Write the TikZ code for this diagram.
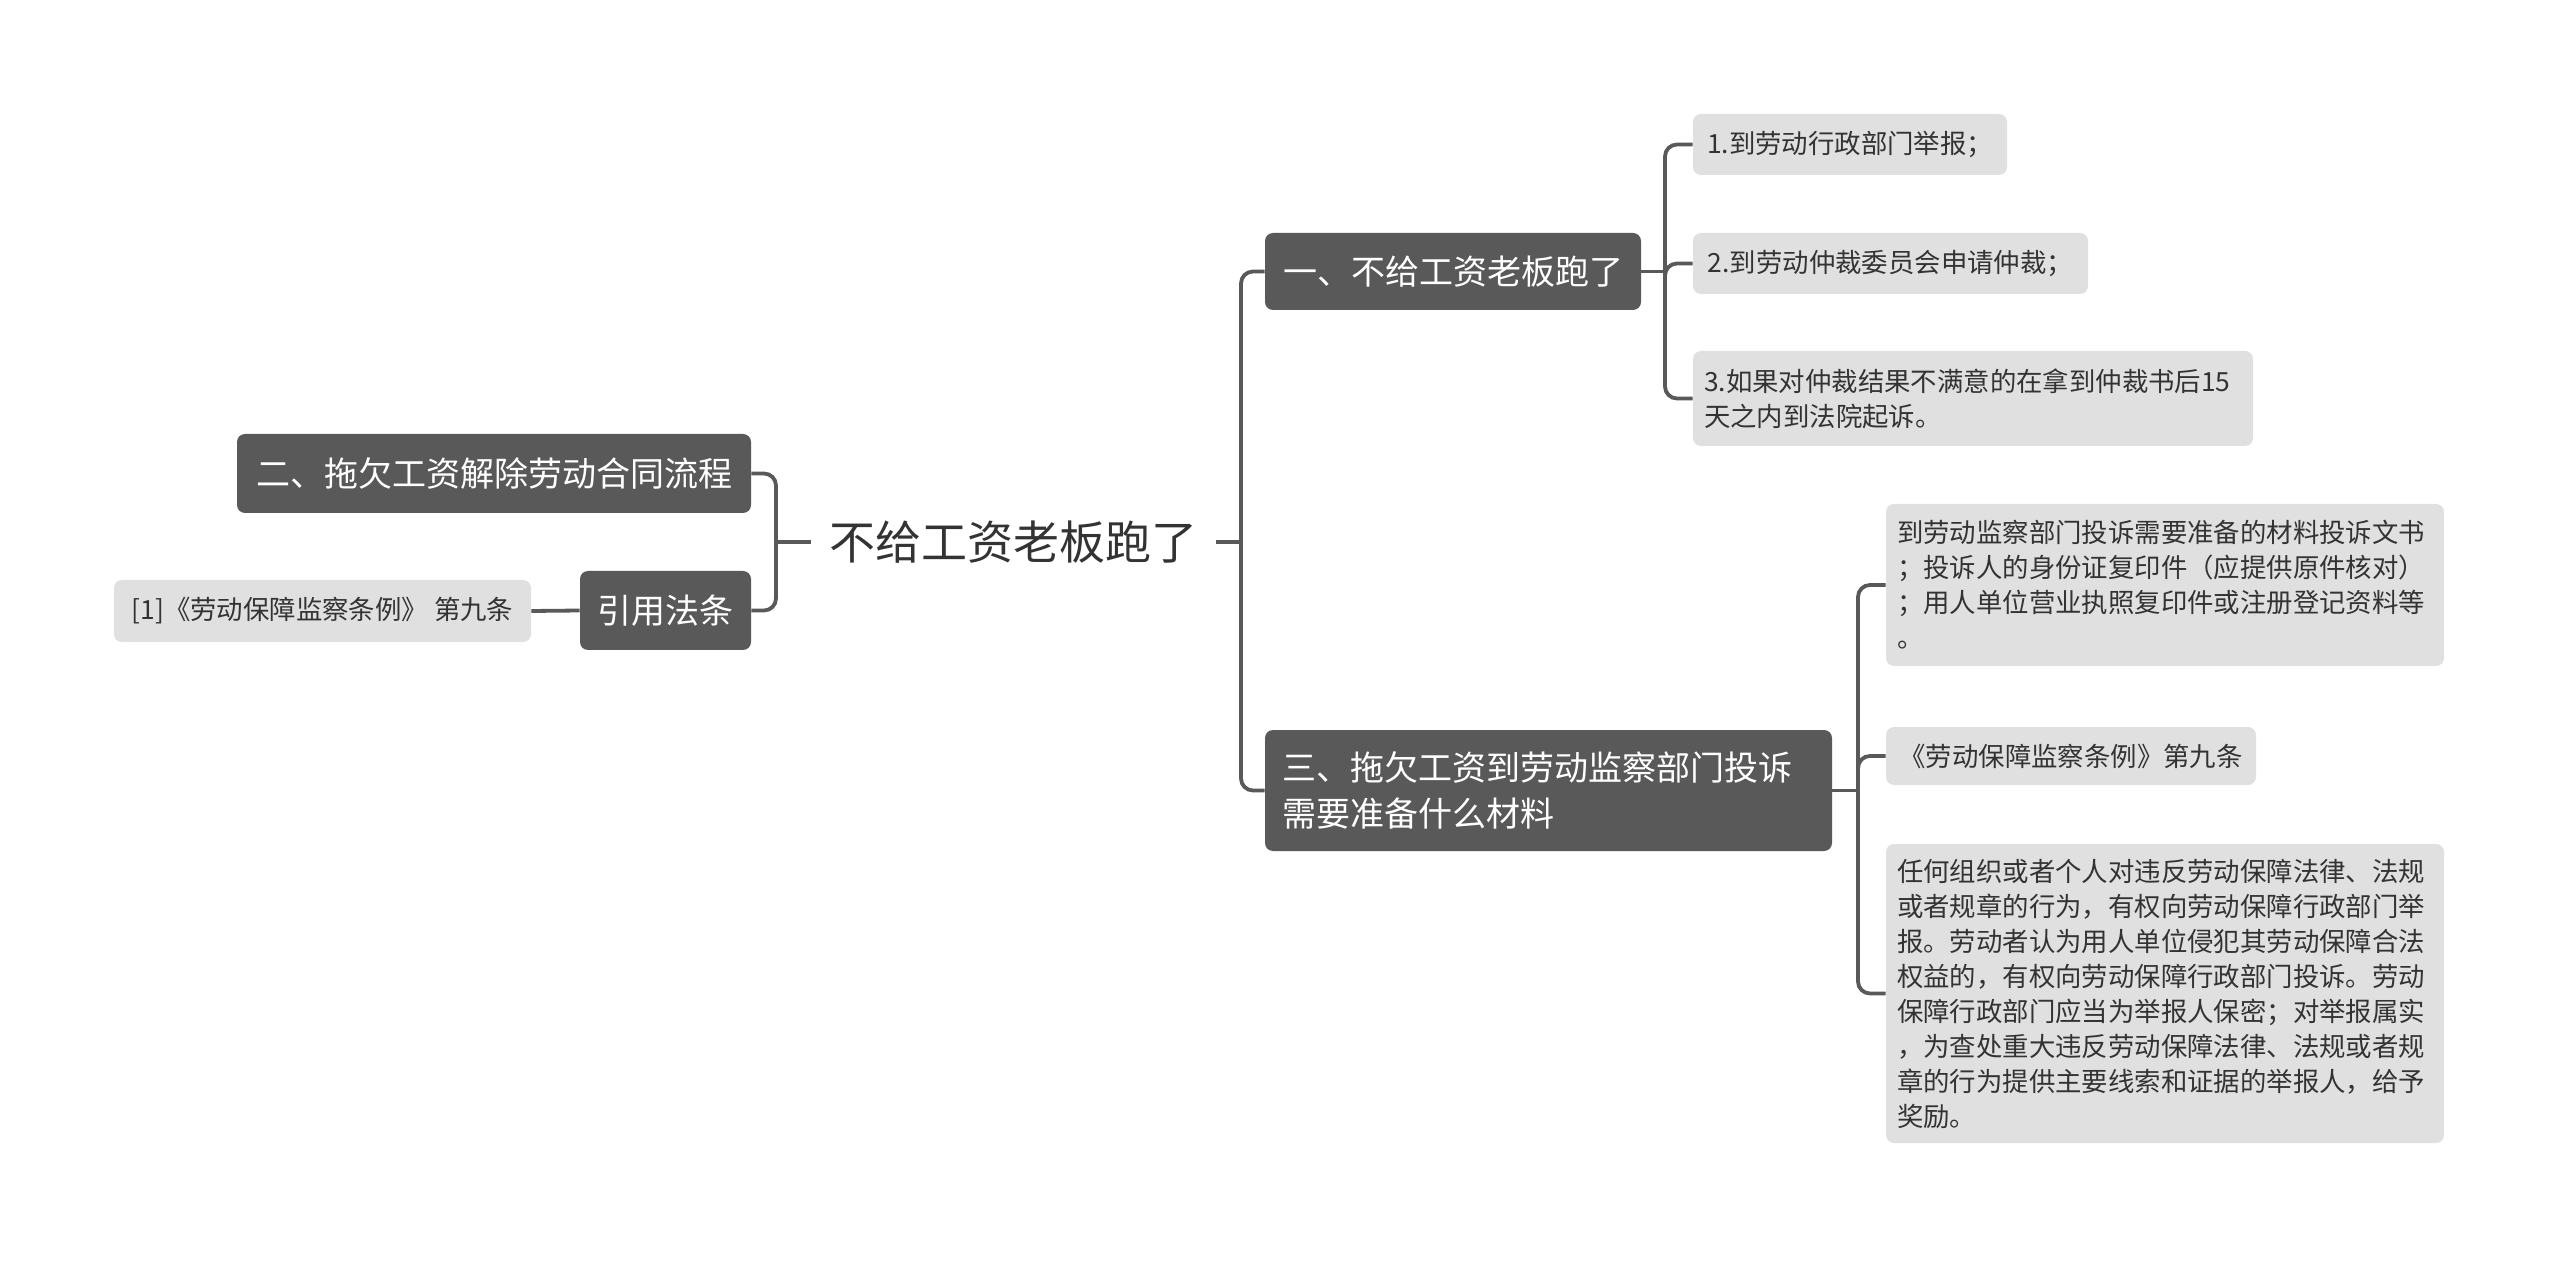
\documentclass[tikz,border=0pt]{standalone}
\usepackage{fontspec}
\setmainfont{Noto Sans CJK SC}
\definecolor{dark}{HTML}{595959}
\definecolor{leafbg}{HTML}{E0E0E0}
\definecolor{txt}{HTML}{333333}
\begin{document}
\begin{tikzpicture}[x=0.5pt,y=-0.5pt,
  conn/.style={draw=dark,line width=1.9pt,rounded corners=6pt},
  rootnode/.style={text=txt,font=\fontsize{23}{28}\selectfont,minimum width=202.5pt,inner sep=0pt},
  topic/.style={fill=dark,text=white,rounded corners=4pt,font=\fontsize{17}{23}\selectfont,inner xsep=8.5pt,inner ysep=0pt,align=left},
  leaf/.style={fill=leafbg,text=txt,rounded corners=4pt,font=\fontsize{13.2}{17.5}\selectfont,inner xsep=5.5pt,inner ysep=0pt,align=left},
]
\useasboundingbox[fill=white] (0,0) rectangle (2560,1261);

\node[rootnode] (root) at (1013.5,542) {不给工资老板跑了};

\node[topic,minimum width=188pt,minimum height=38.5pt] (t1) at (1453,271.5) {一、不给工资老板跑了};
\node[topic,minimum width=283.5pt,minimum height=60.5pt,text width=266.5pt] (t3) at (1548.5,790.5) {三、拖欠工资到劳动监察部门投诉\\需要准备什么材料};
\node[topic,minimum width=257pt,minimum height=39.5pt] (t2) at (494,473.5) {二、拖欠工资解除劳动合同流程};
\node[topic,minimum width=85.5pt,minimum height=39.5pt] (t4) at (665.5,610.5) {引用法条};

\node[leaf,minimum width=157pt,minimum height=30.5pt] (l1) at (1850,144.5) {1.到劳动行政部门举报；};
\node[leaf,minimum width=197.5pt,minimum height=30.5pt] (l2) at (1890.5,263.5) {2.到劳动仲裁委员会申请仲裁；};
\node[leaf,minimum width=280pt,minimum height=47.5pt,text width=269pt] (l3) at (1973,398.5) {3.如果对仲裁结果不满意的在拿到仲裁书后15\\天之内到法院起诉。};
\node[leaf,minimum width=279pt,minimum height=81pt,text width=268pt] (l4) at (2165,585) {到劳动监察部门投诉需要准备的材料投诉文书\\；投诉人的身份证复印件（应提供原件核对）\\；用人单位营业执照复印件或注册登记资料等\\。};
\node[leaf,minimum width=185pt,minimum height=29pt] (l5) at (2071,756) {《劳动保障监察条例》第九条};
\node[leaf,minimum width=279pt,minimum height=149.5pt,text width=268pt] (l6) at (2165,993.5) {任何组织或者个人对违反劳动保障法律、法规\\或者规章的行为，有权向劳动保障行政部门举\\报。劳动者认为用人单位侵犯其劳动保障合法\\权益的，有权向劳动保障行政部门投诉。劳动\\保障行政部门应当为举报人保密；对举报属实\\，为查处重大违反劳动保障法律、法规或者规\\章的行为提供主要线索和证据的举报人，给予\\奖励。};
\node[leaf,minimum width=208.5pt,minimum height=31pt] (c1) at (322.5,611) {[1]《劳动保障监察条例》 第九条};

\coordinate (jR) at (1241,542);
\coordinate (jL) at (776,542);
\coordinate (j1) at (1665,271.5);
\coordinate (j3) at (1858,790.5);

\draw[conn] (root.east) -- (jR);
\draw[conn] (jR) |- (t1.west);
\draw[conn] (jR) |- (t3.west);
\draw[conn] (root.west) -- (jL);
\draw[conn] (jL) |- (t2.east);
\draw[conn] (jL) |- (t4.east);
\draw[conn] (t1.east) -- (j1);
\draw[conn] (j1) |- (l1.west);
\draw[conn] (j1) |- (l2.west);
\draw[conn] (j1) |- (l3.west);
\draw[conn] (t3.east) -- (j3);
\draw[conn] (j3) |- (l4.west);
\draw[conn] (j3) |- (l5.west);
\draw[conn] (j3) |- (l6.west);
\draw[conn] (t4.west) -- (c1.east);
\end{tikzpicture}
\end{document}
